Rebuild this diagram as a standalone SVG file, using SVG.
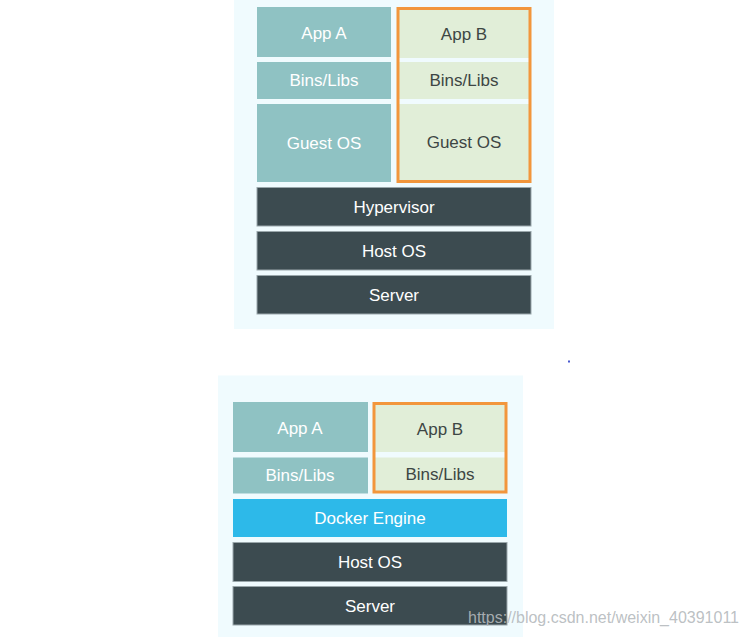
<svg xmlns="http://www.w3.org/2000/svg" width="748" height="637" viewBox="0 0 748 637">
<style>
text{font-family:"Liberation Sans",Arial,sans-serif;font-size:17px;text-anchor:middle;dominant-baseline:central}
.bg{fill:#f0fbfe}
.teal{fill:#8fc2c3}
.green{fill:#e1eed8}
.dark{fill:#3c4b50;stroke:#9aa7ab;stroke-width:1}
.blue{fill:#2db9e9}
.orange{fill:none;stroke:#f2963c;stroke-width:3}
.w{fill:#ffffff}
.k{fill:#3d4644}
</style>
<rect x="0" y="0" width="748" height="637" fill="#ffffff"/>
<g id="vm-panel">
<rect class="bg" x="234" y="0" width="320" height="329"/>
<g id="vm-appA"><rect class="teal" x="257" y="7" width="134" height="50"/><text class="w" x="324" y="33">App A</text></g>
<g id="vm-binsA"><rect class="teal" x="257" y="62" width="134" height="37"/><text class="w" x="324" y="80.5">Bins/Libs</text></g>
<g id="vm-guestA"><rect class="teal" x="257" y="104" width="134" height="78"/><text class="w" x="324" y="143">Guest OS</text></g>
<g id="vm-appB"><rect class="green" x="398" y="8.5" width="132" height="49.5"/><text class="k" x="464" y="34">App B</text></g>
<g id="vm-binsB"><rect class="green" x="398" y="62" width="132" height="37"/><text class="k" x="464" y="80.5">Bins/Libs</text></g>
<g id="vm-guestB"><rect class="green" x="398" y="104" width="132" height="77"/><text class="k" x="464" y="142">Guest OS</text></g>
<rect class="orange" x="398" y="8.5" width="132" height="173"/>
<g id="vm-hypervisor"><rect class="dark" x="257" y="187.5" width="274" height="38.5"/><text class="w" x="394" y="207">Hypervisor</text></g>
<g id="vm-hostos"><rect class="dark" x="257" y="231.5" width="274" height="38.5"/><text class="w" x="394" y="251">Host OS</text></g>
<g id="vm-server"><rect class="dark" x="257" y="275.5" width="274" height="38.5"/><text class="w" x="394" y="295">Server</text></g>
</g>
<rect x="568" y="360.5" width="2" height="2" fill="#4a5ad0"/>
<g id="docker-panel">
<rect class="bg" x="218" y="375.5" width="305" height="261.5"/>
<g id="d-appA"><rect class="teal" x="233" y="402" width="135" height="50"/><text class="w" x="300" y="428">App A</text></g>
<g id="d-binsA"><rect class="teal" x="233" y="457.5" width="135" height="36"/><text class="w" x="300" y="475.5">Bins/Libs</text></g>
<g id="d-appB"><rect class="green" x="374" y="403.5" width="132" height="48.5"/><text class="k" x="440" y="429">App B</text></g>
<g id="d-binsB"><rect class="green" x="374" y="457.5" width="132" height="34"/><text class="k" x="440" y="474.5">Bins/Libs</text></g>
<rect class="orange" x="374" y="403.5" width="132" height="88.5"/>
<g id="d-engine"><rect class="blue" x="233" y="499" width="274" height="38"/><text class="w" x="370" y="518">Docker Engine</text></g>
<g id="d-hostos"><rect class="dark" x="233" y="542.5" width="274" height="39"/><text class="w" x="370" y="562">Host OS</text></g>
<g id="d-server"><rect class="dark" x="233" y="586.5" width="274" height="38.5"/><text class="w" x="370" y="606">Server</text></g>
</g>
<text x="468" y="623" style="font-size:16px;text-anchor:start;dominant-baseline:alphabetic;fill:#b4b9bc;fill-opacity:0.9" textLength="271" lengthAdjust="spacingAndGlyphs">https://blog.csdn.net/weixin_40391011</text>
</svg>
